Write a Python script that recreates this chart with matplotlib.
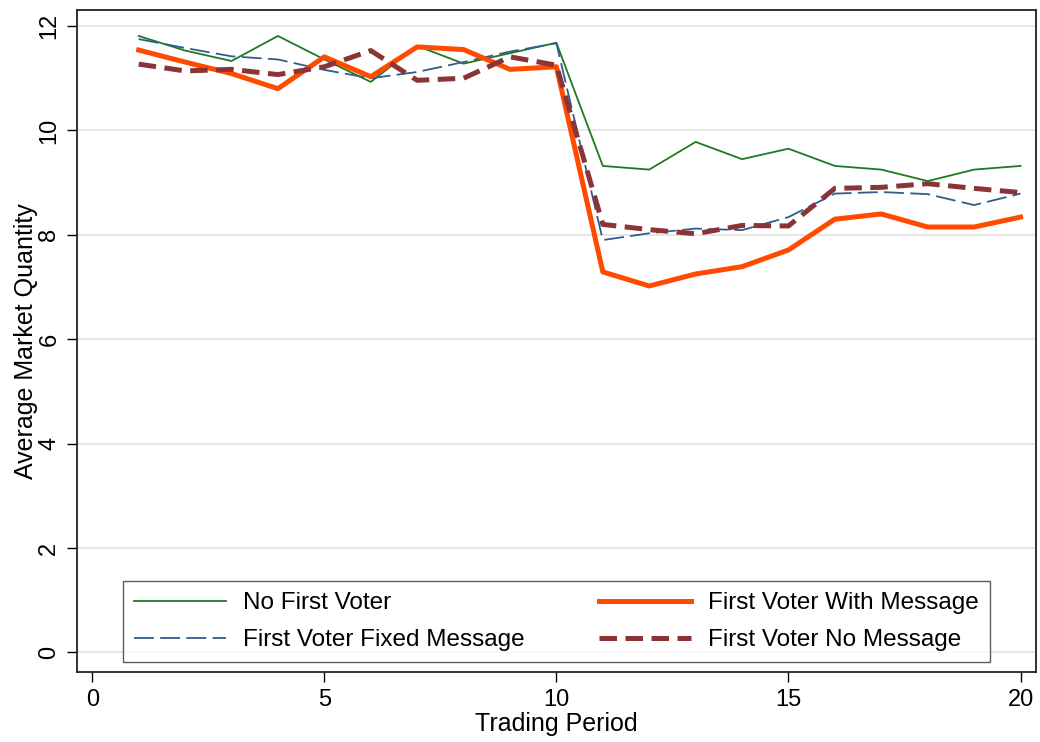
import matplotlib
matplotlib.use("Agg")
import matplotlib.pyplot as plt

plt.rcParams["font.family"] = ["Liberation Sans", "DejaVu Sans"]

periods = list(range(1, 21))

# Average market quantity per trading period
no_first_voter = [11.81, 11.53, 11.33, 11.81, 11.36, 10.93, 11.62, 11.28, 11.48, 11.68,
                  9.32, 9.25, 9.78, 9.45, 9.65, 9.32, 9.25, 9.03, 9.25, 9.32]
fixed_message = [11.75, 11.58, 11.42, 11.36, 11.16, 11.00, 11.12, 11.31, 11.51, 11.67,
                 7.90, 8.03, 8.12, 8.09, 8.34, 8.79, 8.82, 8.78, 8.57, 8.79]
with_message = [11.54, 11.31, 11.09, 10.80, 11.41, 11.03, 11.60, 11.55, 11.17, 11.22,
                7.29, 7.02, 7.25, 7.39, 7.71, 8.30, 8.40, 8.15, 8.15, 8.34]
no_message = [11.27, 11.14, 11.17, 11.07, 11.22, 11.53, 10.96, 11.00, 11.41, 11.25,
              8.20, 8.10, 8.02, 8.18, 8.17, 8.89, 8.91, 8.98, 8.89, 8.81]

x_ticks = [0, 5, 10, 15, 20]
y_ticks = [0, 2, 4, 6, 8, 10, 12]

fig = plt.figure(figsize=(10.4, 7.42), dpi=100)
ax = fig.add_axes([0.074, 0.094, 0.922, 0.892])

for y in y_ticks:
    ax.axhline(y, color="#e2e2e2", lw=1.2, zorder=0)

l1, = ax.plot(periods, no_first_voter, color="#1f7a1f", lw=1.3, label="No First Voter")
l2, = ax.plot(periods, fixed_message, color="#2f5d8c", lw=1.3, dashes=(11, 3.5),
              label="First Voter Fixed Message")
l3, = ax.plot(periods, with_message, color="#ff4a00", lw=3.6, label="First Voter With Message")
l4, = ax.plot(periods, no_message, color="#8a3438", lw=3.6, dashes=(3.5, 1.7),
              label="First Voter No Message")

ax.set_xlim(-0.33, 20.33)
ax.set_ylim(-0.38, 12.3)
ax.set_xticks(x_ticks)
ax.set_yticks(y_ticks)
ax.tick_params(axis="both", direction="out", length=7, width=1, labelsize=17,
               colors="black", pad=5)
for lab in ax.get_yticklabels():
    lab.set_rotation(90)
    lab.set_va("center")
for sp in ax.spines.values():
    sp.set_color("#222222")
    sp.set_linewidth(1.3)

ax.set_xlabel("Trading Period", fontsize=18, labelpad=1)
ax.set_ylabel("Average Market Quantity", fontsize=18, labelpad=0)

leg = ax.legend(handles=[l1, l2, l3, l4], ncol=2, loc="lower left",
                bbox_to_anchor=(0.048, 0.015, 0.904, 0.124), mode="expand",
                fontsize=17.5, handlelength=3.8, handletextpad=0.7,
                borderaxespad=0, frameon=True, fancybox=False,
                edgecolor="#333333", borderpad=0.45, labelspacing=0.62)
leg.get_frame().set_linewidth(1.0)

fig.savefig("out.png")
